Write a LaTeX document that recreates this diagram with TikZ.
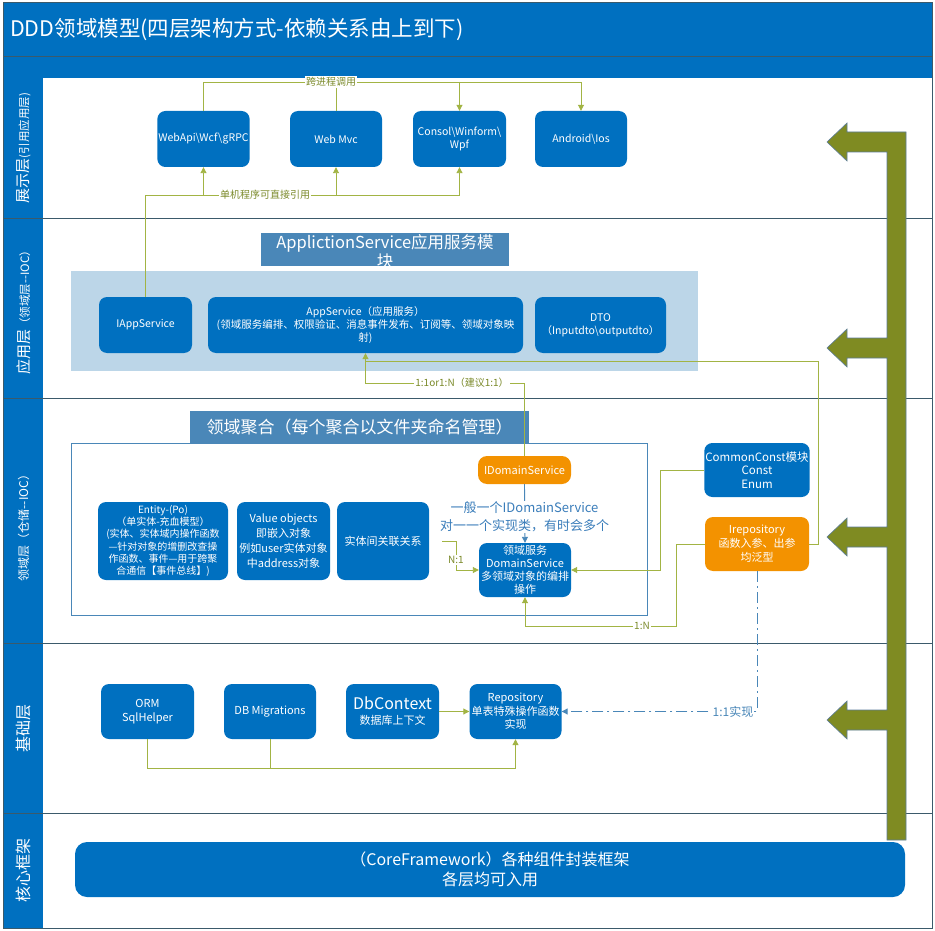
\documentclass[tikz,border=0pt]{standalone}
\usepackage{fontspec}
\setmainfont{Noto Sans CJK SC}
\usetikzlibrary{arrows.meta}
\definecolor{dblue}{HTML}{0070C0}
\definecolor{orng}{HTML}{F39200}
\definecolor{sblue}{HTML}{4A87B8}
\definecolor{pblue}{HTML}{BCD6E8}
\definecolor{olv}{HTML}{A2B444}
\definecolor{olvtxt}{HTML}{7B8A2A}
\definecolor{bigolv}{HTML}{7F8B22}
\definecolor{slate}{HTML}{3B5A6B}
\definecolor{btxt}{HTML}{3A7DBA}
\definecolor{arrline}{HTML}{5B7C99}
\newcommand{\fsz}[2]{\fontsize{#1}{#2}\selectfont}
\begin{document}
\begin{tikzpicture}[x=1pt,y=-1pt,
  sz/.style 2 args={minimum width=#1pt,minimum height=#2pt},
  box/.style={fill=dblue, rounded corners=8pt, text=white, align=center, inner sep=1pt, font=\fsz{10.5}{13}},
  obox/.style={box, fill=orng},
  conn/.style={draw=olv, line width=0.9pt},
  tip/.style={-{Triangle[length=6pt,width=6pt]}},
  clab/.style={fill=white, text=olvtxt, inner sep=1pt, font=\fsz{10}{12}},
  lanetxt/.style={rotate=90, text=white, align=center, inner sep=0pt},
  laneline/.style={draw=slate, line width=1pt},
  tbox/.style={fill=sblue, text=white, inner sep=0pt}
]
\useasboundingbox (0,0) rectangle (935,931);
% frame and header
\fill[white] (3,3) rectangle (932,928);
\fill[dblue] (3,3) rectangle (932,78);
\fill[dblue] (4,78) rectangle (43,928);
\draw[laneline] (3,57) -- (932,57);
\foreach \yy in {218,398,643,813} \draw[laneline] (4,\yy) -- (932,\yy);
\draw[laneline] (3,3) rectangle (932,928);
\node[anchor=west, text=white, font=\fsz{21.5}{24}, inner sep=0pt] (title) at (10,30) {DDD领域模型(四层架构方式-依赖关系由上到下)};

% lane labels
\node[lanetxt] (l1) at (23.5,148) {{\fsz{15}{17}展示层}{\fsz{11.5}{14}(引用应用层)}};
\node[lanetxt] (l2) at (23.5,310) {{\fsz{15}{17}应用层}{\fsz{11.5}{14}（领域层-{}-IOC）}};
\node[lanetxt] (l3) at (23.5,525) {\fsz{12}{14}领域层（仓储-{}-IOC）};
\node[lanetxt] (l4) at (23.5,728) {\fsz{16}{18}基础层};
\node[lanetxt] (l5) at (23.5,870) {\fsz{16}{18}核心框架};

% big olive arrow
\filldraw[fill=bigolv, draw=arrline, line width=0.6pt]
 (827,142) -- (847,123) -- (847,132) -- (906,132) -- (906,840) -- (887,840)
 -- (887,730) -- (847,730) -- (847,739) -- (827,720) -- (847,701) -- (847,710) -- (887,710)
 -- (887,547) -- (847,547) -- (847,556) -- (827,537) -- (847,518) -- (847,527) -- (887,527)
 -- (887,358) -- (847,358) -- (847,367) -- (827,348) -- (847,329) -- (847,338) -- (887,338)
 -- (887,152) -- (847,152) -- (847,161) -- cycle;

% presentation layer
\node[box, sz={92}{56}] (webapi) at (203.5,139) {WebApi\textbackslash{}Wcf\textbackslash{}gRPC};
\node[box, sz={92}{56}] (webmvc) at (336,139) {Web Mvc};
\node[box, sz={93}{56}] (consol) at (459.5,139) {Consol\textbackslash{}Winform\textbackslash{}\\Wpf};
\node[box, sz={92}{56}] (android) at (581,139) {Android\textbackslash{}Ios};

% application layer
\fill[pblue] (71,271) rectangle (698,371);
\fill[sblue] (261,233) rectangle (509,266);
\node[text=white, align=center, font=\fsz{16.5}{19}, inner sep=0pt] (apptitle) at (385,252) {ApplictionService应用服务模\\块};
\node[box, sz={93}{56}] (iapp) at (145.5,325) {IAppService};
\node[box, sz={315}{56}] (appsvc) at (365.5,325) {AppService（应用服务）\\(领域服务编排、权限验证、消息事件发布、订阅等、领域对象映\\射)};
\node[box, sz={131}{56}] (dto) at (600.5,325) {DTO\\（Inputdto\textbackslash{}outputdto）};

% domain layer
\draw[draw=sblue, line width=0.8pt] (71,443) rectangle (647,615);
\fill[sblue] (190,411) rectangle (529,443);
\node[text=white, font=\fsz{17}{20}, inner sep=0pt] (domtitle) at (359.5,427) {领域聚合（每个聚合以文件夹命名管理）};
\node[box, sz={130}{78}, font=\fsz{10}{12.3}] (entity) at (163,541) {Entity-(Po)\\（单实体-充血模型）\\(实体、实体域内操作函数\\—针对对象的增删改查操\\作函数、事件—用于跨聚\\合通信【事件总线】)};
\node[box, sz={93}{78}, font=\fsz{11}{15}] (valobj) at (283.5,541) {Value objects\\即嵌入对象\\例如user实体对象\\中address对象};
\node[box, sz={92}{78}, font=\fsz{11}{14}] (relation) at (383,541) {实体间关联关系};
\node[obox, sz={93}{28}, rounded corners=9pt, font=\fsz{11}{13}] (idomain) at (524.5,470) {IDomainService};
\node[box, sz={92}{54}, font=\fsz{11}{13}] (domsvc) at (525,570) {领域服务\\DomainService\\多领域对象的编排\\操作};
\node[box, sz={104}{54}, font=\fsz{11.5}{13.5}] (common) at (757,470) {CommonConst模块\\Const\\Enum};
\node[obox, sz={104}{54}, font=\fsz{11}{14}] (irepo) at (757,544) {Irepository\\函数入参、出参\\均泛型};

% infrastructure
\node[box, sz={93}{55}, font=\fsz{11}{14}] (orm) at (147.5,711.5) {ORM\\SqlHelper};
\node[box, sz={92}{55}, font=\fsz{11}{14}] (dbmig) at (270,711.5) {DB Migrations};
\node[box, sz={93}{55}, font=\fsz{11}{15}] (dbctx) at (392.5,711.5) {{\fsz{16}{19}DbContext}\\数据库上下文};
\node[box, sz={92}{55}, font=\fsz{11}{13.5}] (repo) at (515.5,711.5) {Repository\\单表特殊操作函数\\实现};

% core
\node[box, sz={830}{55}, rounded corners=12pt, font=\fsz{16}{20}] (core) at (490,869.5) {（CoreFramework）各种组件封装框架\\各层均可入用};

% connectors: presentation
\draw[conn, tip] (webapi.north) |- (android.north |- 0,82) -- (android.north);
\draw[conn, tip] (consol.north |- 0,82) -- (consol.north);
\draw[conn] (webmvc.north) -- (webmvc.north |- 0,82);
\node[clab] (lab1) at (331,82) {跨进程调用};
\draw[conn, tip] (iapp.north) |- (consol.south |- 0,195) -- (consol.south);
\draw[conn, tip] (webapi.south |- 0,195) -- (webapi.south);
\draw[conn, tip] (webmvc.south |- 0,195) -- (webmvc.south);
\node[clab] (lab2) at (265,195) {单机程序可直接引用};

% connectors: application/domain
\draw[conn] (irepo.east) -- ++(9,0) |- (appsvc.south |- 0,361);
\draw[conn, tip] (idomain.north) |- (appsvc.south |- 0,383) -- (appsvc.south);
\node[clab] (lab3) at (462,383) {1:1or1:N（建议1:1）};
\draw[draw=sblue, line width=0.9pt, tip] (idomain.south) -- (domsvc.north);
\node[fill=white, text=btxt, align=center, inner sep=1pt, font=\fsz{13}{18}] (lab4) at (524.5,517) {一般一个IDomainService\\对一一个实现类，有时会多个};
\draw[conn, tip, shorten <=13pt] (relation.east) -- (456,541) |- (domsvc.west);
\node[clab] (lab5) at (456,560) {N:1};
\draw[conn, tip] (common.west) -- (660,470) |- (domsvc.east);
\draw[conn, tip] (irepo.west) -- (676,544) |- (domsvc.south |- 0,626) -- (domsvc.south);
\node[clab] (lab6) at (642,626) {1:N};

% connectors: infrastructure
\draw[draw=sblue, line width=1pt, dash pattern=on 11pt off 4pt on 2pt off 4pt, tip] (irepo.south) |- (repo.east);
\node[fill=white, text=sblue, inner sep=1pt, font=\fsz{12}{14}] (lab7) at (733,712) {1:1实现};
\draw[conn, tip] (dbctx.east) -- (repo.west);
\draw[conn, tip] (orm.south) |- (repo.south |- 0,768) -- (repo.south);
\draw[conn] (dbmig.south) -- (dbmig.south |- 0,768);
\end{tikzpicture}
\end{document}
